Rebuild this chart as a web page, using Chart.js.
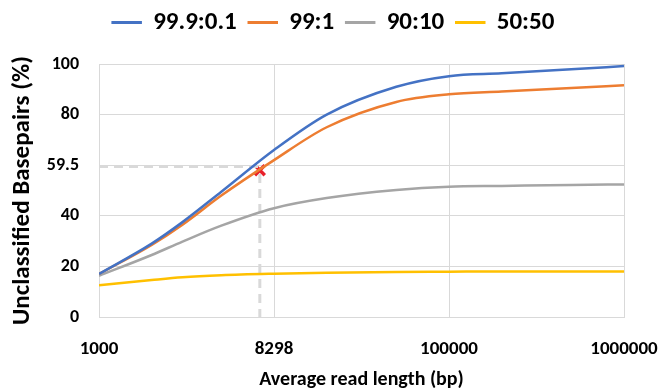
<!DOCTYPE html>
<html>
<head>
<meta charset="utf-8">
<script src="https://cdn.jsdelivr.net/npm/chart.js@4"></script>
<style>
    html, body { margin: 0; padding: 0; background: #ffffff; }
    #wrap { width: 667px; height: 392px; }
</style>
</head>
<body>
<div id="wrap"><canvas id="readChart" width="667" height="392"></canvas></div>
<script>
const readLengths = [1000, 2000, 3000, 5000, 10000, 20000, 50000, 100000, 200000, 500000, 1000000];

// unclassified basepairs (%) per mix ratio
const mix999 = [17, 29, 37.5, 49.5, 66, 80, 91, 95.2, 96.3, 97.9, 99.2];
const mix99 = [17, 28.5, 36.5, 48, 62, 75, 85, 88, 89.1, 90.5, 91.6];
const mix90 = [16.3, 24.5, 29.8, 36.1, 43, 47, 50.2, 51.5, 51.8, 52.2, 52.4];
const mix50 = [12.5, 14.6, 15.7, 16.5, 17.1, 17.5, 17.8, 17.9, 18, 18, 18];

const seriesNames = ['99.9:0.1', '99:1', '90:10', '50:50'];

// marked point and its guide lines
const markX = 8298;
const markY = 58;
const guideY = 59.5;

// tick positions and the labels shown at them
const xTicks = [1000, 10000, 100000, 1000000];
const xTickLabels = ['1000', '8298', '100000', '1000000'];
const yTicks = [0, 20, 40, 60, 80, 100];
const yTickLabels = ['0', '20', '40', '59.5', '80', '100'];

const fontFamily = "Carlito, Lato, 'Liberation Sans', Arial, sans-serif";

function toPoints(values) {
    return readLengths.map((x, i) => ({x: x, y: values[i]}));
}

function lineSet(label, values, color) {
    return {
        label: label,
        data: toPoints(values),
        borderColor: color,
        backgroundColor: color,
        borderWidth: 2.5,
        pointRadius: 0,
        cubicInterpolationMode: 'monotone',
        fill: false,
    };
}

// legend block height, so the plot starts lower
const legendMargin = {
    id: 'legendMargin',
    beforeInit(chart) {
        const fit = chart.legend.fit;
        chart.legend.fit = function () {
            fit.bind(chart.legend)();
            this.height = 66;
        };
    }
};

const ctx = document.getElementById('readChart').getContext('2d');
new Chart(ctx, {
    type: 'line',
    data: {
        datasets: [
            lineSet(seriesNames[0], mix999, '#4472C4'),
            lineSet(seriesNames[1], mix99, '#ED7D31'),
            lineSet(seriesNames[2], mix90, '#A5A5A5'),
            lineSet(seriesNames[3], mix50, '#FFC000'),
            {
                label: 'guideH',
                data: [{x: 1000, y: guideY}, {x: markX, y: guideY}],
                borderColor: '#d9d9d9',
                borderWidth: 3,
                borderDash: [9, 6],
                pointRadius: 0,
                tension: 0,
            },
            {
                label: 'guideV',
                data: [{x: markX, y: guideY - 3}, {x: markX, y: 0}],
                borderColor: '#d9d9d9',
                borderWidth: 3,
                borderDash: [9, 6],
                pointRadius: 0,
                tension: 0,
            },
            {
                label: 'mark',
                data: [{x: markX, y: markY}],
                showLine: false,
                pointStyle: 'crossRot',
                pointRadius: 7,
                pointBorderWidth: 3.5,
                pointBorderColor: '#e8202a',
                pointBackgroundColor: '#e8202a',
            },
        ],
    },
    plugins: [legendMargin],
    options: {
        responsive: false,
        animation: false,
        layout: {
            padding: {top: -2, left: 0, right: 0, bottom: 0},
        },
        scales: {
            x: {
                type: 'logarithmic',
                min: 1000,
                max: 1000000,
                afterBuildTicks: axis => axis.ticks = xTicks.map(v => ({value: v})),
                afterFit: axis => {
                    axis.height = 75;
                    axis.paddingLeft = 0;
                    axis.paddingRight = 43;
                },
                grid: {
                    color: '#d9d9d9',
                    lineWidth: 1,
                    drawTicks: false,
                },
                border: {
                    color: '#d9d9d9',
                },
                ticks: {
                    callback: function (value, index) {
                        return xTickLabels[index];
                    },
                    color: '#000000',
                    font: {family: fontFamily, weight: 'bold', size: 19},
                    padding: 21,
                    maxRotation: 0,
                    minRotation: 0,
                },
                title: {
                    display: true,
                    text: 'Average read length (bp)',
                    color: '#000000',
                    font: {family: fontFamily, weight: 'bold', size: 20},
                    padding: {top: 0, bottom: 0},
                },
            },
            y: {
                min: 0,
                max: 100,
                afterBuildTicks: axis => axis.ticks = yTicks.map(v => ({value: v})),
                afterFit: axis => {
                    axis.width = 99;
                    axis.paddingTop = 0;
                    axis.paddingBottom = 0;
                },
                grid: {
                    color: '#d9d9d9',
                    lineWidth: 1,
                    drawTicks: false,
                },
                border: {
                    color: '#d9d9d9',
                },
                ticks: {
                    callback: function (value, index) {
                        return yTickLabels[index];
                    },
                    color: '#000000',
                    font: {family: fontFamily, weight: 'bold', size: 18},
                    padding: 20,
                },
                title: {
                    display: true,
                    text: 'Unclassified Basepairs (%)',
                    color: '#000000',
                    font: {family: fontFamily, weight: 'bold', size: 25},
                    padding: {top: 8, bottom: 0},
                },
            },
        },
        plugins: {
            legend: {
                display: true,
                position: 'top',
                labels: {
                    filter: item => seriesNames.includes(item.text),
                    boxWidth: 28,
                    boxHeight: 0.5,
                    padding: 12,
                    color: '#000000',
                    font: {family: fontFamily, weight: 'bold', size: 25},
                },
            },
            tooltip: {enabled: false},
        },
    },
});
</script>
</body>
</html>
